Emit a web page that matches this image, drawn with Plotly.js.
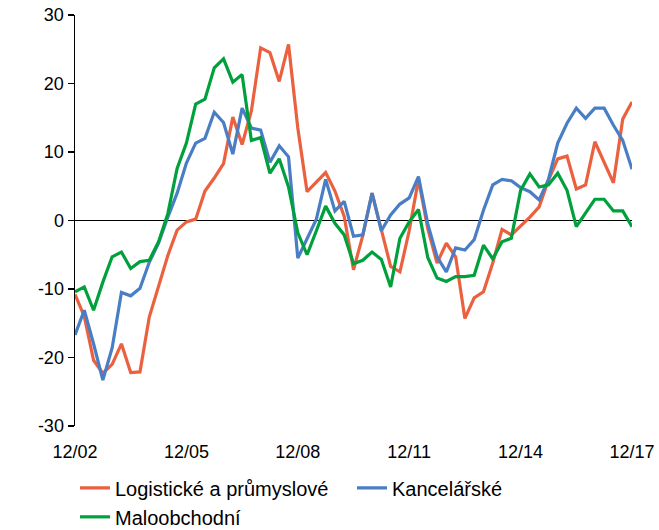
<!DOCTYPE html>
<html>
<head>
<meta charset="utf-8">
<script src="https://cdn.plot.ly/plotly-3.0.1.min.js"></script>
<style>html,body{margin:0;padding:0;background:#fff;}#chart{width:659px;height:530px;}</style>
</head>
<body>
<div id="chart"></div>
<script>
var quarters = ['12/02','3/03','6/03','9/03','12/03','3/04','6/04','9/04','12/04','3/05','6/05','9/05','12/05',
'3/06','6/06','9/06','12/06','3/07','6/07','9/07','12/07','3/08','6/08','9/08','12/08',
'3/09','6/09','9/09','12/09','3/10','6/10','9/10','12/10','3/11','6/11','9/11','12/11',
'3/12','6/12','9/12','12/12','3/13','6/13','9/13','12/13','3/14','6/14','9/14','12/14',
'3/15','6/15','9/15','12/15','3/16','6/16','9/16','12/16','3/17','6/17','9/17','12/17'];

var tickLabels = ['12/02','12/05','12/08','12/11','12/14','12/17'];
var yTickValues = [-30,-20,-10,0,10,20,30];
var yTickText = ['-30','-20','-10','0','10','20','30'];

var logistics = [-10.8,-14.0,-20.4,-22.3,-21.0,-18.0,-22.2,-22.1,-14.1,-9.5,-5.1,-1.4,-0.2,
0.2,4.3,6.2,8.3,15.1,11.1,16.0,25.2,24.5,20.3,25.7,13.5,
4.2,5.6,7.0,4.3,0.6,-7.2,-2.2,4.0,-1.2,-6.7,-7.5,-1.5,
6.0,-1.2,-6.2,-3.3,-5.3,-14.3,-11.3,-10.4,-6.2,-1.3,-2.1,-0.8,
0.5,2.0,5.9,9.0,9.4,4.6,5.2,11.5,8.5,5.5,14.8,17.3];

var office = [-16.7,-13.1,-18.0,-23.3,-18.6,-10.5,-11.0,-9.9,-6.1,-3.3,0.5,4.0,8.4,
11.3,12.0,15.8,14.3,9.7,16.4,13.5,13.2,8.5,10.9,9.3,-5.5,
-2.6,0.2,6.0,1.4,2.8,-2.3,-2.1,4.0,-1.5,0.8,2.4,3.3,
6.4,-0.5,-5.3,-7.5,-4.0,-4.3,-2.8,1.5,5.2,6.0,5.8,4.8,
4.2,3.0,6.0,11.3,14.2,16.4,14.9,16.4,16.4,13.9,11.7,7.5];

var retail = [-10.4,-9.7,-13.1,-9.0,-5.3,-4.6,-7.0,-6.0,-5.8,-3.1,1.0,7.6,11.3,
17.0,17.7,22.3,23.6,20.2,21.3,11.7,12.1,6.9,9.0,4.9,-1.8,
-5.0,-1.5,2.1,-0.4,-2.1,-6.3,-5.8,-4.6,-5.7,-9.7,-2.6,-0.2,
1.6,-5.4,-8.4,-8.9,-8.2,-8.2,-8.0,-3.6,-5.6,-3.1,-2.6,4.4,
6.8,4.9,5.2,6.9,4.4,-0.9,1.1,3.1,3.1,1.4,1.4,-0.9];

var seriesNames = ['Logistické a průmyslové','Kancelářské','Maloobchodní'];
var colors = ['#EB6140','#4A7EC4','#00A03C'];
var values = [logistics, office, retail];

var traces = values.map(function(v, k){
  return {x: quarters, y: v, type: 'scatter', mode: 'lines', name: seriesNames[k],
          line: {color: colors[k], width: 3.2}};
});

var layout = {
  width: 659, height: 530,
  margin: {l: 75, r: 27, t: 15, b: 104, autoexpand: false},
  paper_bgcolor: '#fff', plot_bgcolor: '#fff',
  font: {family: '"Liberation Sans", Arial, sans-serif', size: 18, color: '#000'},
  showlegend: true,
  legend: {orientation: 'h', x: 0, xanchor: 'left', y: -0.103, yanchor: 'top',
           font: {size: 20, color: '#000'}, entrywidth: 232, entrywidthmode: 'pixels',
           traceorder: 'normal', bgcolor: 'rgba(0,0,0,0)', tracegroupgap: 0},
  xaxis: {type: 'category', range: [0, quarters.length - 1], tickmode: 'array',
          tickvals: tickLabels, ticktext: tickLabels, showgrid: false, zeroline: false,
          showline: false, ticks: '', ticklabelstandoff: 13, fixedrange: true},
  yaxis: {range: [-30, 30], tickmode: 'array', tickvals: yTickValues, ticktext: yTickText,
          showgrid: false, zeroline: true,
          zerolinecolor: '#000', zerolinewidth: 1.5, showline: true, linecolor: '#000',
          linewidth: 1.5, ticks: 'outside', ticklen: 6, tickwidth: 1.5, tickcolor: '#000',
          fixedrange: true}
};

Plotly.newPlot('chart', traces, layout, {displayModeBar: false, staticPlot: true});
</script>
</body>
</html>
